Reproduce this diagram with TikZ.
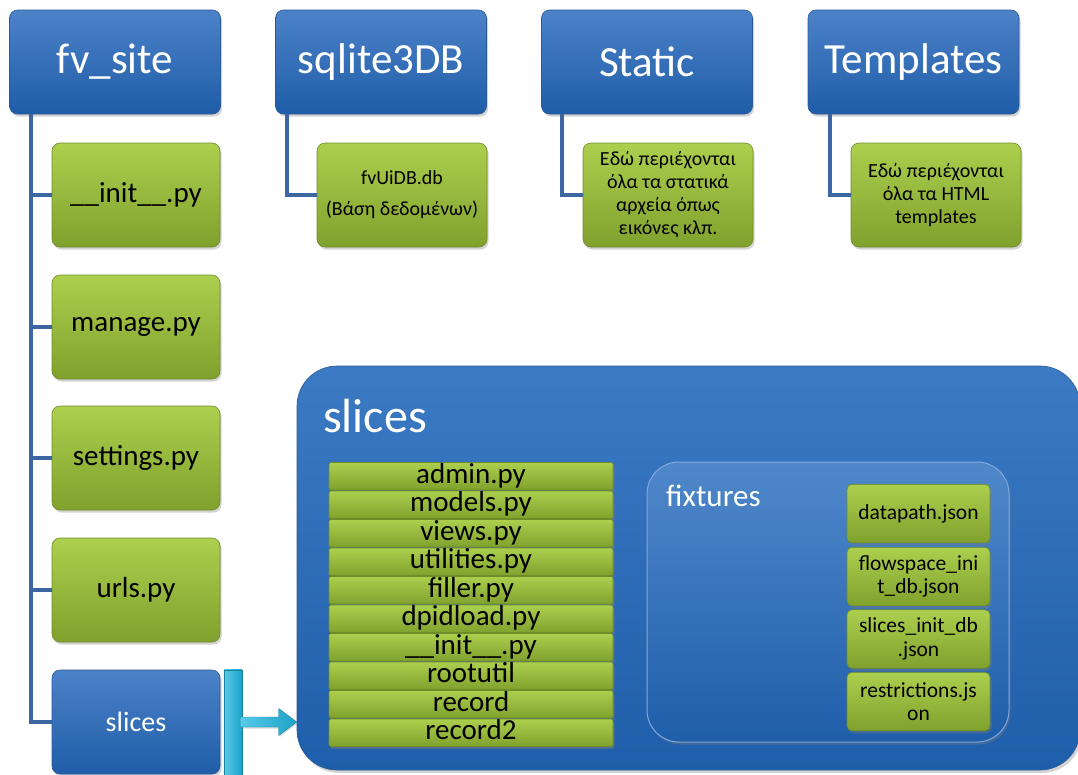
\documentclass[tikz,border=0pt]{standalone}
\usepackage{fontspec}
\setmainfont{Carlito}
\usetikzlibrary{shadows,calc}

\definecolor{bluetop}{HTML}{4C82C8}
\definecolor{bluebot}{HTML}{1F5DA8}
\definecolor{blueedge}{HTML}{2A5A96}
\definecolor{bigtop}{HTML}{3C7AC4}
\definecolor{bigbot}{HTML}{1F5EAA}
\definecolor{greentop}{HTML}{ACCF4E}
\definecolor{greenbot}{HTML}{80A12D}
\definecolor{greenedge}{HTML}{6E8C27}
\definecolor{linkblue}{HTML}{3B66A1}
\definecolor{cyanlight}{HTML}{58CBE8}
\definecolor{cyandark}{HTML}{1CA2C8}

\tikzset{
  box/.style={rounded corners=8pt, inner sep=0pt, align=center,
    drop shadow={opacity=0.35, shadow xshift=1.5pt, shadow yshift=-2.5pt}},
  bluebox/.style={box, draw=blueedge, line width=0.6pt,
    top color=bluetop, bottom color=bluebot, text=white},
  greenbox/.style={box, draw=greenedge, line width=0.6pt,
    top color=greentop, bottom color=greenbot, text=black},
  headbox/.style={bluebox, minimum width=211pt, minimum height=104pt,
    font=\fontsize{43}{48}\selectfont},
  filebox/.style={greenbox, minimum width=168pt, minimum height=104pt,
    font=\fontsize{29}{33}\selectfont},
  notebox/.style={greenbox, minimum width=170pt, minimum height=104pt,
    font=\fontsize{20}{23}\selectfont},
  barbox/.style={greenbox, rounded corners=1.5pt, minimum width=284pt,
    minimum height=27.5pt, text height=20.5pt, text depth=6.5pt,
    font=\fontsize{29}{30}\selectfont,
    drop shadow={opacity=0.3, shadow xshift=1pt, shadow yshift=-1.5pt}},
  fixbox/.style={greenbox, rounded corners=5pt, minimum width=143pt,
    minimum height=58.5pt, font=\fontsize{21.5}{23.5}\selectfont},
  conn/.style={draw=linkblue, line width=3.8pt},
  cyanfill/.style={left color=cyanlight, right color=cyandark, draw=cyandark!80!black, line width=0.4pt}
}

\begin{document}
\begin{tikzpicture}[x=1pt, y=-1pt]
\useasboundingbox (0,0) rectangle (1078,774);

% top-level folders
\node[headbox] (fv)     at (115,62)   {fv\_site};
\node[headbox] (sqlite) at (381,62)   {sqlite3DB};
\node[headbox] (static) at (647,62)   {Static};
\node[headbox] (templ)  at (913.5,62) {Templates};

% contents of fv_site
\node[filebox] (init)     at (136,195) {\_\_init\_\_.py};
\node[filebox] (manage)   at (136,327) {manage.py};
\node[filebox] (settings) at (136,458) {settings.py};
\node[filebox] (urls)     at (136,590) {urls.py};
\node[bluebox, minimum width=168pt, minimum height=104pt,
      font=\fontsize{28}{32}\selectfont] (slicesmall) at (136,722) {slices};

% contents of the other folders
\node[notebox, font=\fontsize{20}{31}\selectfont] (db) at (402,195)
  {fvUiDB.db\\(Βάση δεδομένων)};
\node[notebox] (staticnote) at (668,195)
  {Εδώ περιέχονται\\όλα τα στατικά\\αρχεία όπως\\εικόνες κλπ.};
\node[notebox] (templnote) at (936,195)
  {Εδώ περιέχονται\\όλα τα HTML\\templates};

% tree connectors
\coordinate (trunk) at (fv.south -| 31,0);
\foreach \n in {init,manage,settings,urls,slicesmall}
  \draw[conn] (trunk) |- (\n.west);
\draw[conn] (sqlite.south -| 287,0) |- (db.west);
\draw[conn] (static.south -| 562,0) |- (staticnote.west);
\draw[conn] (templ.south -| 830,0) |- (templnote.west);

% expanded slices folder
\node[rounded corners=40pt, top color=bigtop, bottom color=bigbot,
      draw=blueedge, line width=0.6pt, minimum width=783pt, minimum height=404pt,
      inner sep=0pt, drop shadow={opacity=0.35, shadow xshift=2pt, shadow yshift=-3pt}]
  (bigslices) at (688.5,568) {};
\node[anchor=base west, text=white, inner sep=0pt,
      font=\fontsize{48}{52}\selectfont] (bigtitle) at (323,432) {slices};

% module files of slices
\foreach \name [count=\i from 0] in {admin.py, models.py, views.py, utilities.py,
    filler.py, dpidload.py, \_\_init\_\_.py, rootutil, record, record2}
  \node[barbox] (bar\i) at (471, 476.25+28.5*\i) {\name};

% fixtures folder
\node[rounded corners=32pt, top color=bigtop!90!white, bottom color=bigbot,
      draw=bluetop!70!white, line width=1pt, minimum width=362pt, minimum height=280pt,
      inner sep=0pt, drop shadow={opacity=0.35, shadow xshift=1.5pt, shadow yshift=-2.5pt}]
  (fixtures) at (828,602) {};
\node[anchor=base west, text=white, inner sep=0pt,
      font=\fontsize{31}{34}\selectfont] (fixtitle) at (666,506) {fixtures};

\node[fixbox] (fx1) at (918.5,513.5) {datapath.json};
\node[fixbox] (fx2) at (918.5,576.5) {flowspace\_ini\\t\_db.json};
\node[fixbox] (fx3) at (918.5,639)   {slices\_init\_db\\.json};
\node[fixbox] (fx4) at (918.5,701.5) {restrictions.js\\on};

% bracket arrow from the slices entry to its expanded view
\coordinate (tip) at (bigslices.west |- slicesmall.east);
\fill[cyanfill, drop shadow={opacity=0.3, shadow xshift=1pt, shadow yshift=-1.5pt}]
  ([xshift=3.5pt]slicesmall.north east) rectangle ++(18,110);
\draw[cyanfill, drop shadow={opacity=0.3, shadow xshift=1pt, shadow yshift=-1.5pt}]
  (tip) -- ++(-18,-13.5) -- ++(0,8.5) -- ++(-38.5,0) -- ++(0,10)
  -- ++(38.5,0) -- ++(0,8.5) -- cycle;
\end{tikzpicture}
\end{document}
